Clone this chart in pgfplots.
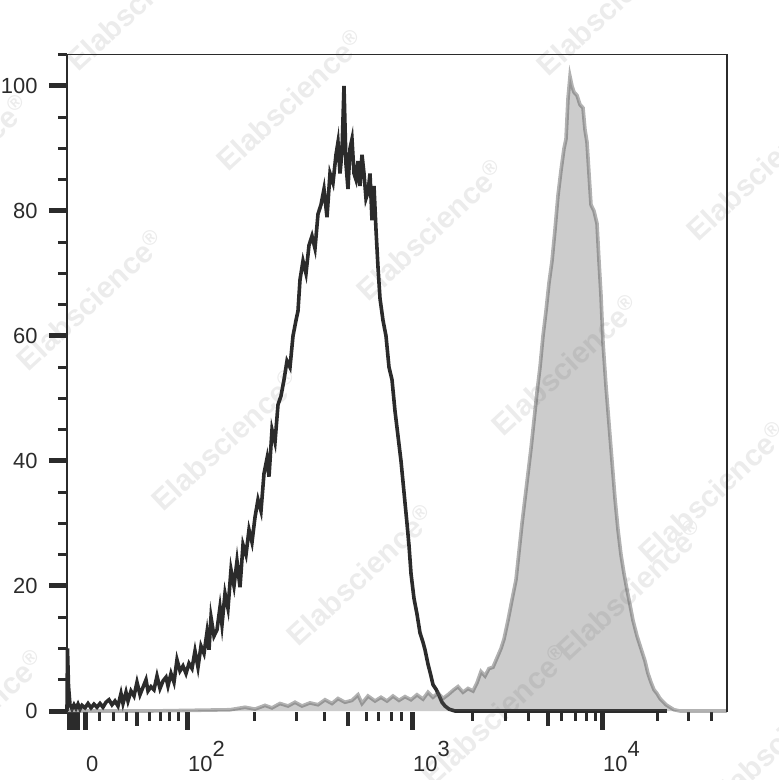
\documentclass[border=0pt]{standalone}
\usepackage{fontspec}
\setmainfont{Liberation Sans}
\usepackage{pgfplots}
\usepackage{pgfplotstable}
\pgfplotsset{compat=1.18}
\definecolor{blk}{HTML}{2B2B2B}
\definecolor{gfill}{HTML}{555555}
\definecolor{wm}{HTML}{ECECEC}
\newcommand\ex[1]{10\raisebox{15bp}{#1}}

\pgfplotstableread{
x y
67 0
67.5 10
68.5 4
70 1
72 0.3
74 1
76 0.4
78 1.1
80 0.3
82 0.9
85 0.5
88 1.2
91 0.5
94 1.1
97 0.6
100 1.2
103 0.6
106 1.4
109 1.8
112 1.0
115 1.6
118 0.8
121 2.8
123 1.2
126 3.0
128 1.6
131 3.2
134 2.4
137 4.6
140 2.6
143 3.8
146 5.0
148 3.2
151 3.9
154 3.4
157 5.6
160 3.6
163 4.8
166 5.4
168 4.0
171 6.0
174 4.6
177 8.2
180 6.4
183 7.2
186 6.0
189 7.6
192 6.8
195 9.6
198 7.0
201 10.4
204 9.2
207 12.6
209 9.8
211 15.0
214 12.0
217 13.0
220 16.6
222 13.8
225 18.8
228 16.4
231 22.6
234 20.0
237 24.0
240 19.8
243 26.6
246 25.0
249 29.0
252 27.0
255 31.0
258 33.8
261 32.0
264 38.0
267 40.4
269 37.5
272 45.0
275 43.0
278 49.0
281 50.4
284 53.0
287 56.0
290 55.0
293 60.0
296 62.5
298 64.0
300 69.0
303 72.0
306 70.0
309 74.5
312 76.0
315 74.0
318 79.5
321 81.0
324 83.5
327 79.0
330 86.0
333 84.5
336 89.0
338 91.0
340 86.0
342 89.5
344 100.0
346 87.5
348 83.5
350 90.0
352 91.5
354 86.0
356 85.0
358 88.0
360 84.0
362 89.0
364 86.0
366 82.0
368 83.0
370 86.0
372 78.5
374 84.0
376 77.0
378 71.0
380 66.0
383 62.5
386 60.0
389 55.0
392 53.0
395 48.0
398 44.0
401 40.0
404 35.0
407 30.0
409 26.5
411 22.0
414 18.0
417 15.5
420 12.5
423 11.0
425 9.8
428 7.5
431 5.6
433 4.2
436 3.5
439 2.5
442 1.4
445 0.8
449 0.3
455 0
667 0
}\blackdata

\pgfplotstableread{
x y
67 0
150 0
230 0.2
245 0.6
255 0.3
265 0.9
272 0.5
280 1.2
288 0.8
295 1.4
302 0.8
310 1.3
318 1.0
325 1.8
332 1.2
338 2.0
345 1.4
352 1.7
358 2.6
362 1.2
368 2.4
375 1.6
381 2.2
387 1.6
393 2.4
399 1.7
405 2.3
411 1.8
417 2.6
423 1.9
428 3.0
433 2.2
438 2.9
443 2.0
448 2.6
453 3.3
458 3.9
463 3.0
468 3.6
473 3.2
477 4.5
481 6.3
485 5.6
489 6.8
493 7.0
497 8.5
501 10.0
504 11.5
508 14.5
512 17.8
516 21.0
519 25.5
522 30.0
525 34.0
528 38.0
531 42.0
534 46.5
537 51.0
540 55.0
543 60.0
546 64.0
549 68.5
552 72.0
555 77.0
558 82.5
561 86.5
564 90.0
566 91.5
568 98.0
570 101.5
572 100.0
574 99.0
577 98.5
580 97.0
583 96.5
585 93.0
587 91.0
589 86.0
591 81.0
594 80.0
597 78.0
599 72.0
601 66.5
603 59.0
606 52.0
609 46.0
612 40.0
615 34.0
618 29.0
621 25.0
624 22.0
627 19.4
630 17.0
633 14.5
637 12.0
641 10.0
645 8.0
648 6.0
651 4.6
654 3.4
657 2.8
660 2.0
663 1.5
666 1.0
670 0.6
674 0.2
680 0
727 0
}\graydata

\begin{document}
\begin{tikzpicture}
\begin{scope}[shift={(-67bp,712bp)}]
\foreach \X/\Y in {140/0,290/100,430/230,565/365,90/300,225/440,360/575,495/715,630/590,712/492,760/170,610/5,-45/165,-30/720,780/740}{
  \node[rotate=43, text=wm, font=\bfseries\fontsize{30}{30}\selectfont] at (\X bp,-\Y bp) {Elabscience\textsuperscript{\textregistered}};
}
\end{scope}
\begin{axis}[
  at={(0,0)}, anchor=south west,
  scale only axis, width=660bp, height=657.3bp,
  xmin=67, xmax=727, ymin=-0.16, ymax=105,
  axis line style={draw=none},
  tick pos=left, tick align=outside,
  xtick={70,74,78,86,188,413,603},
  xticklabels={,,,0,\ex{2},\ex{3},\ex{4}},
  minor xtick={100,114,127,150,161,170,179,255,297,325,367,379,392,402,473,506,529,562,576,587,596,658,689,712},
  extra x ticks={137,348,548},
  extra x tick labels={},
  extra x tick style={major tick length=14bp, major tick style={line width=4bp}},
  ytick={0,20,40,60,80,100},
  yticklabels={0,20,40,60,80,100},
  minor ytick={5,10,15,25,30,35,45,50,55,65,70,75,85,90,95,105},
  major tick length=18bp, minor tick length=9bp,
  major tick style={line width=5bp, draw=blk},
  minor tick style={line width=3bp, draw=blk},
  tick label style={font=\fontsize{22}{26}\selectfont, text=blk},
  xticklabel style={anchor=base west, inner sep=0pt, yshift=-42bp},
  yticklabel style={xshift=-8bp},
  clip=false,
]
\addplot[blk, line width=3.6bp, mark=none] table {\blackdata};
\addplot[draw=none, fill=gfill, fill opacity=0.3, mark=none] table {\graydata} \closedcycle;
\addplot[gfill, draw opacity=0.45, line width=3.6bp, mark=none] table {\graydata};
\draw[blk, line width=1.5bp] (rel axis cs:0,0) -- (rel axis cs:0,1) -- (rel axis cs:1,1) -- (rel axis cs:1,0);
\end{axis}
\pgfresetboundingbox
\useasboundingbox (-67bp,-68bp) rectangle (712bp,712bp);
\end{tikzpicture}
\end{document}
